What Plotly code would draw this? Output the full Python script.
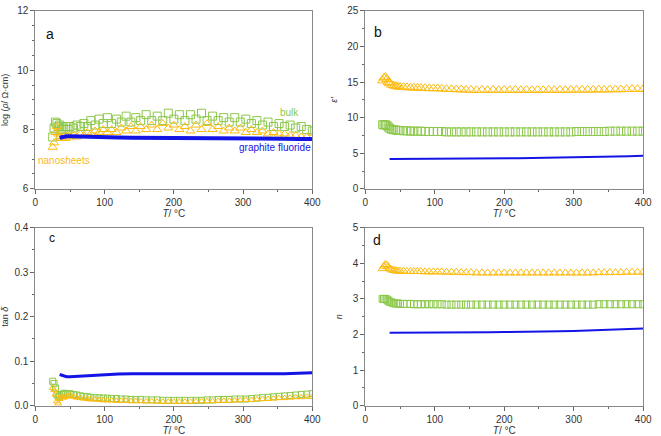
import plotly.graph_objects as go

# ---------------- data ----------------
T_GO = [25,27,29,31,33,35,38,41,44,47,50,55,60,65,70,75,80,86,92,98,104,110,117,124,131,
        138,145,152,160,168,176,184,192,200,208,216,224,232,240,248,256,264,272,280,288,
        296,304,312,320,328,336,344,352,360,368,376,384,392,400]
T_B = [35,40,45,50,60,70,80,100,120,140,160,180,200,220,240,260,280,300,320,340,360,380,400]

bulk_rho = [7.75,8.05,8.25,8.2,8.1, 8.15,8.0,8.05,8.1,8.0, 8.1,8.05,8.15,8.1,8.2,
            8.1,8.3,8.15,8.35,8.2, 8.4,8.2,8.35,8.25,8.45, 8.25,8.4,8.3,8.5,8.3,
            8.45,8.3,8.55,8.35,8.5, 8.3,8.5,8.35,8.55,8.3, 8.45,8.3,8.4,8.25,8.4,
            8.25,8.35,8.2,8.3,8.15, 8.25,8.1,8.2,8.1,8.15, 8.05,8.1,8.0,7.95]
nano_rho = [7.4,7.55,7.9,8.1,7.85, 7.75,7.7,7.75,7.7,7.8, 7.75,7.8,7.75,7.85,7.8,
            7.9,7.85,7.95,7.9,8.0, 7.9,8.0,7.9,8.05,7.95, 8.1,7.95,8.1,8.0,8.15,
            8.0,8.2,8.05,8.15,8.0, 8.1,7.95,8.15,8.0,8.2, 8.0,8.1,7.95,8.05,7.95,
            8.05,7.9,8.0,7.9,7.95, 7.85,7.9,7.85,7.85,7.8, 7.8,7.75,7.75,7.75]
gf_rho = [7.72,7.76,7.77,7.77,7.76,7.75,7.74,7.73,7.73,7.72,7.72,7.72,7.72,7.71,7.71,
          7.71,7.70,7.70,7.70,7.69,7.69,7.68,7.68]

nano_eps = [15.2,15.6,15.7,15.4,15.0, 14.8,14.6,14.5,14.4,14.35, 14.3,14.3,14.25,14.2,14.2,
            14.2,14.15,14.15,14.1,14.1, 14.1,14.05,14.0,14.0,13.95, 13.95,13.9,13.9,13.85,13.9,
            13.85,13.9,13.85,13.9,13.85, 13.9,13.85,13.9,13.85,13.9, 13.85,13.9,13.85,13.9,13.85,
            13.9,13.9,13.9,13.9,13.9, 13.95,13.9,13.95,13.95,13.95, 14.0,14.0,14.0,14.0]
bulk_eps = [9.0,9.0,9.0,8.9,8.7, 8.5,8.35,8.3,8.25,8.2, 8.2,8.15,8.15,8.1,8.1,
            8.1,8.1,8.05,8.05,8.05, 8.05,8.05,8.0,8.0,8.0, 8.0,8.0,8.0,8.0,8.0,
            8.0,8.0,8.0,8.0,8.0, 8.0,8.0,8.0,8.0,8.0, 8.0,8.0,8.0,8.0,8.0,
            8.0,8.05,8.05,8.05,8.05, 8.05,8.05,8.1,8.1,8.1, 8.1,8.1,8.1,8.1]
gf_eps = [4.2,4.2,4.2,4.2,4.2,4.2,4.2,4.22,4.23,4.24,4.25,4.27,4.28,4.3,4.32,4.34,4.37,
          4.4,4.44,4.48,4.53,4.58,4.65]

bulk_tan = [0.055,0.05,0.04,0.025,0.02, 0.022,0.025,0.028,0.027,0.026, 0.027,0.025,0.024,0.022,0.021,
            0.02,0.019,0.018,0.018,0.017, 0.017,0.016,0.016,0.015,0.015, 0.014,0.014,0.014,0.013,0.013,
            0.013,0.012,0.012,0.012,0.012, 0.012,0.012,0.012,0.012,0.013, 0.013,0.014,0.014,0.014,0.015,
            0.015,0.015,0.016,0.017,0.018, 0.019,0.02,0.021,0.022,0.023, 0.024,0.025,0.026,0.027]
nano_tan = [0.04,0.035,0.025,0.01,0.005, 0.015,0.02,0.018,0.02,0.022, 0.023,0.02,0.018,0.017,0.016,
            0.015,0.014,0.014,0.013,0.012, 0.012,0.012,0.011,0.011,0.011, 0.01,0.01,0.01,0.01,0.01,
            0.009,0.009,0.009,0.009,0.009, 0.009,0.009,0.01,0.01,0.01, 0.01,0.011,0.011,0.011,0.012,
            0.012,0.013,0.013,0.014,0.015, 0.015,0.016,0.017,0.017,0.018, 0.019,0.019,0.02,0.02]
gf_tan = [0.070,0.067,0.065,0.065,0.066,0.067,0.068,0.069,0.071,0.072,0.072,0.072,0.071,
          0.071,0.071,0.071,0.071,0.071,0.072,0.072,0.072,0.073,0.074]

nano_n = [3.85,3.92,3.97,3.95,3.9, 3.85,3.82,3.8,3.79,3.78, 3.78,3.78,3.77,3.77,3.77,
          3.77,3.77,3.76,3.76,3.76, 3.76,3.76,3.75,3.75,3.75, 3.74,3.74,3.74,3.73,3.73,
          3.73,3.73,3.73,3.73,3.73, 3.73,3.73,3.73,3.73,3.73, 3.73,3.73,3.73,3.73,3.73,
          3.73,3.73,3.73,3.73,3.73, 3.74,3.74,3.74,3.74,3.74, 3.75,3.75,3.75,3.75]
bulk_n = [3.0,3.0,3.0,2.98,2.95, 2.92,2.9,2.88,2.87,2.87, 2.86,2.86,2.86,2.86,2.85,
          2.85,2.85,2.85,2.85,2.85, 2.85,2.85,2.84,2.84,2.84, 2.84,2.84,2.84,2.84,2.84,
          2.84,2.84,2.84,2.84,2.84, 2.84,2.84,2.84,2.84,2.84, 2.84,2.84,2.84,2.84,2.84,
          2.84,2.84,2.84,2.84,2.84, 2.85,2.85,2.85,2.85,2.85, 2.85,2.85,2.85,2.85]
gf_n = [2.05,2.05,2.05,2.05,2.04,2.04,2.04,2.04,2.05,2.05,2.06,2.06,2.07,2.07,2.08,2.08,
        2.09,2.1,2.11,2.12,2.13,2.15,2.17]

GREEN = "#8cc84b"
ORANGE = "#fdbb10"
BLUE = "#1414e6"

# ---------------- figure ----------------
fig = go.Figure()

panels = [
    # (xaxis, yaxis, bulk, nano, gf, square size, triangle size, line width)
    ("x", "y", bulk_rho, nano_rho, gf_rho, 8, 8, 4),
    ("x2", "y2", bulk_eps, nano_eps, gf_eps, 8, 9, 2),
    ("x3", "y3", bulk_tan, nano_tan, gf_tan, 6, 6, 3),
    ("x4", "y4", bulk_n, nano_n, gf_n, 7, 8, 2),
]
for xa, ya, b, nn, g, ms, mt, lw in panels:
    fig.add_trace(go.Scatter(x=T_GO, y=b, xaxis=xa, yaxis=ya, mode="markers",
                             marker=dict(symbol="square-open", size=ms, color=GREEN,
                                         line=dict(width=1, color=GREEN)),
                             showlegend=False))
    fig.add_trace(go.Scatter(x=T_GO, y=nn, xaxis=xa, yaxis=ya, mode="markers",
                             marker=dict(symbol="triangle-up-open", size=mt, color=ORANGE,
                                         line=dict(width=1, color=ORANGE)),
                             showlegend=False))
    fig.add_trace(go.Scatter(x=T_B, y=g, xaxis=xa, yaxis=ya, mode="lines",
                             line=dict(color=BLUE, width=lw), showlegend=False))

W, H = 661, 436
xdom_l = [33 / W, 315 / W]
xdom_r = [369 / W, 652 / W]
ydom_t = [1 - 188 / H, 1 - 5 / H]
ydom_b = [1 - 411 / H, 1 - 228 / H]

tickfont = dict(family="Liberation Sans, Arial, sans-serif", size=10, color="#333333")
common = dict(showline=True, linecolor="#888888", linewidth=1, mirror=True,
              ticks="outside", ticklen=4, tickcolor="#666666", showgrid=False,
              zeroline=False, tickfont=tickfont)

def xax(dom, anchor):
    return dict(domain=dom, anchor=anchor, range=[0, 400], tickvals=[0, 100, 200, 300, 400],
                minor=dict(tickvals=[50, 150, 250, 350], ticks="outside", ticklen=2,
                           tickcolor="#666666"),
                title=dict(text="<i>T</i>/ °C", standoff=0,
                           font=dict(family="Liberation Sans, Arial, sans-serif", size=10,
                                     color="#333333")),
                **common)

def yax(dom, anchor, rng, tv, mv, title, fmt=None):
    d = dict(domain=dom, anchor=anchor, range=rng, tickvals=tv,
             minor=dict(tickvals=mv, ticks="outside", ticklen=2, tickcolor="#666666"),
             title=dict(text=title, standoff=8,
                        font=dict(family="Liberation Sans, Arial, sans-serif", size=9,
                                  color="#333333")),
             **common)
    if fmt:
        d["tickformat"] = fmt
    return d

fig.update_layout(
    width=W, height=H, margin=dict(l=0, r=0, t=0, b=0),
    paper_bgcolor="white", plot_bgcolor="white",
    xaxis=xax(xdom_l, "y"), yaxis=yax(ydom_t, "x", [6, 12], [6, 8, 10, 12],
                                     [6.5, 7, 7.5, 8.5, 9, 9.5, 10.5, 11, 11.5],
                                     "log (<i>ρ</i>/ Ω·cm)"),
    xaxis2=xax(xdom_r, "y2"), yaxis2=yax(ydom_t, "x2", [0, 25], [0, 5, 10, 15, 20, 25],
                                        [2.5, 7.5, 12.5, 17.5, 22.5], "<i>ε′</i>"),
    xaxis3=xax(xdom_l, "y3"), yaxis3=yax(ydom_b, "x3", [0, 0.4], [0, 0.1, 0.2, 0.3, 0.4],
                                        [0.05, 0.15, 0.25, 0.35], "tan <i>δ</i>", ".1f"),
    xaxis4=xax(xdom_r, "y4"), yaxis4=yax(ydom_b, "x4", [0, 5], [0, 1, 2, 3, 4, 5],
                                        [0.5, 1.5, 2.5, 3.5, 4.5], "<i>n</i>"),
)

lblfont = dict(family="Liberation Sans, Arial, sans-serif", size=10)
anns = [
    dict(x=367, y=8.56, xref="x", yref="y", text="bulk", font=dict(color=GREEN, **lblfont)),
    dict(x=42, y=6.95, xref="x", yref="y", text="nanosheets", font=dict(color=ORANGE, **lblfont)),
    dict(x=346, y=7.38, xref="x", yref="y", text="graphite fluoride",
         font=dict(color=BLUE, **lblfont)),
]
for a in anns:
    a.update(showarrow=False)
    fig.add_annotation(**a)

letters = [("a", 42, 18, 14), ("b", 382, 16, 14), ("c", 45, 239, 12), ("d", 381, 241, 14)]
for t, px, py, fs in letters:
    fig.add_annotation(x=px / W, y=1 - py / H, xref="paper", yref="paper", text=t,
                       showarrow=False, font=dict(family="Liberation Sans, Arial, sans-serif",
                                                  size=fs, color="#111111"))

fig.write_html("out.html")
